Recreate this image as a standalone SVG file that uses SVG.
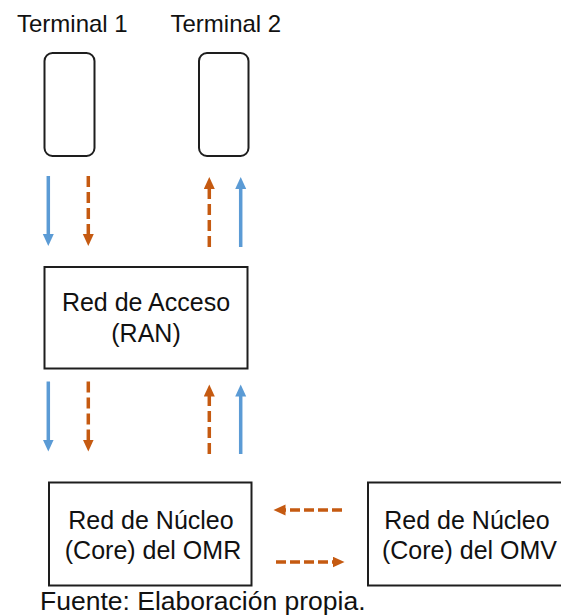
<svg xmlns="http://www.w3.org/2000/svg" width="561" height="615" viewBox="0 0 561 615">
  <style>
    .lbl { font-family: "Liberation Sans", Arial, sans-serif; font-size: 24px; fill: #111111; }
    .big { font-size: 25px; }
    .box { fill: #ffffff; stroke: #1e1e1e; stroke-width: 2; }
    .blue { stroke: #5b9bd5; stroke-width: 3.5; fill: none; }
    .orange { stroke: #c55a11; stroke-width: 3.5; fill: none; stroke-dasharray: 11 5; }
    .orangeh { stroke: #c55a11; stroke-width: 3.5; fill: none; stroke-dasharray: 10 4; }
  </style>
  <defs>
    <marker id="hb" markerUnits="userSpaceOnUse" markerWidth="13" markerHeight="12" refX="1" refY="5.5" orient="auto" viewBox="0 0 13 12">
      <path d="M0,0 L12,5.5 L0,11 z" fill="#5b9bd5"/>
    </marker>
    <marker id="ho" markerUnits="userSpaceOnUse" markerWidth="13" markerHeight="12" refX="1" refY="5.5" orient="auto" viewBox="0 0 13 12">
      <path d="M0,0 L12,5.5 L0,11 z" fill="#c55a11"/>
    </marker>
  </defs>

  <g id="terminal1">
    <text class="lbl" x="17" y="32">Terminal 1</text>
    <rect class="box" x="44.5" y="53" width="50" height="103" rx="8"/>
  </g>
  <g id="terminal2">
    <text class="lbl" x="170.5" y="32">Terminal 2</text>
    <rect class="box" x="199" y="53" width="49.5" height="103" rx="8"/>
  </g>
  <g id="ran">
    <rect class="box" x="44.5" y="267" width="203" height="101.5"/>
    <text class="lbl big" x="146" y="311" text-anchor="middle">Red de Acceso</text>
    <text class="lbl big" x="146" y="341.5" text-anchor="middle">(RAN)</text>
  </g>
  <g id="core-omr">
    <rect class="box" x="49" y="482.5" width="202.5" height="103"/>
    <text class="lbl big" x="151" y="528.5" text-anchor="middle">Red de Núcleo</text>
    <text class="lbl big" x="153" y="558.5" text-anchor="middle">(Core) del OMR</text>
  </g>
  <g id="core-omv">
    <rect class="box" x="368" y="482.5" width="200" height="103"/>
    <text class="lbl big" x="467" y="528.5" text-anchor="middle">Red de Núcleo</text>
    <text class="lbl big" x="469.5" y="558.5" text-anchor="middle">(Core) del OMV</text>
  </g>

  <g id="connectors">
    <line class="blue" x1="48.3" y1="176" x2="48.3" y2="235" marker-end="url(#hb)"/>
    <line class="orange" x1="88.3" y1="176" x2="88.3" y2="235" marker-end="url(#ho)"/>
    <line class="orange" x1="209.3" y1="247" x2="209.3" y2="188" marker-end="url(#ho)"/>
    <line class="blue" x1="240.7" y1="247" x2="240.7" y2="188" marker-end="url(#hb)"/>

    <line class="blue" x1="48.3" y1="381.5" x2="48.3" y2="440.5" marker-end="url(#hb)"/>
    <line class="orange" x1="88.3" y1="381.5" x2="88.3" y2="440.5" marker-end="url(#ho)"/>
    <line class="orange" x1="209.3" y1="454" x2="209.3" y2="395.5" marker-end="url(#ho)"/>
    <line class="blue" x1="240.7" y1="454" x2="240.7" y2="395.5" marker-end="url(#hb)"/>

    <line class="orangeh" x1="342" y1="510" x2="284.5" y2="510" marker-end="url(#ho)"/>
    <line class="orangeh" x1="276" y1="562" x2="333.5" y2="562" marker-end="url(#ho)"/>
  </g>

  <text class="lbl" x="40" y="610" style="font-size:26.5px">Fuente: Elaboración propia.</text>
</svg>
